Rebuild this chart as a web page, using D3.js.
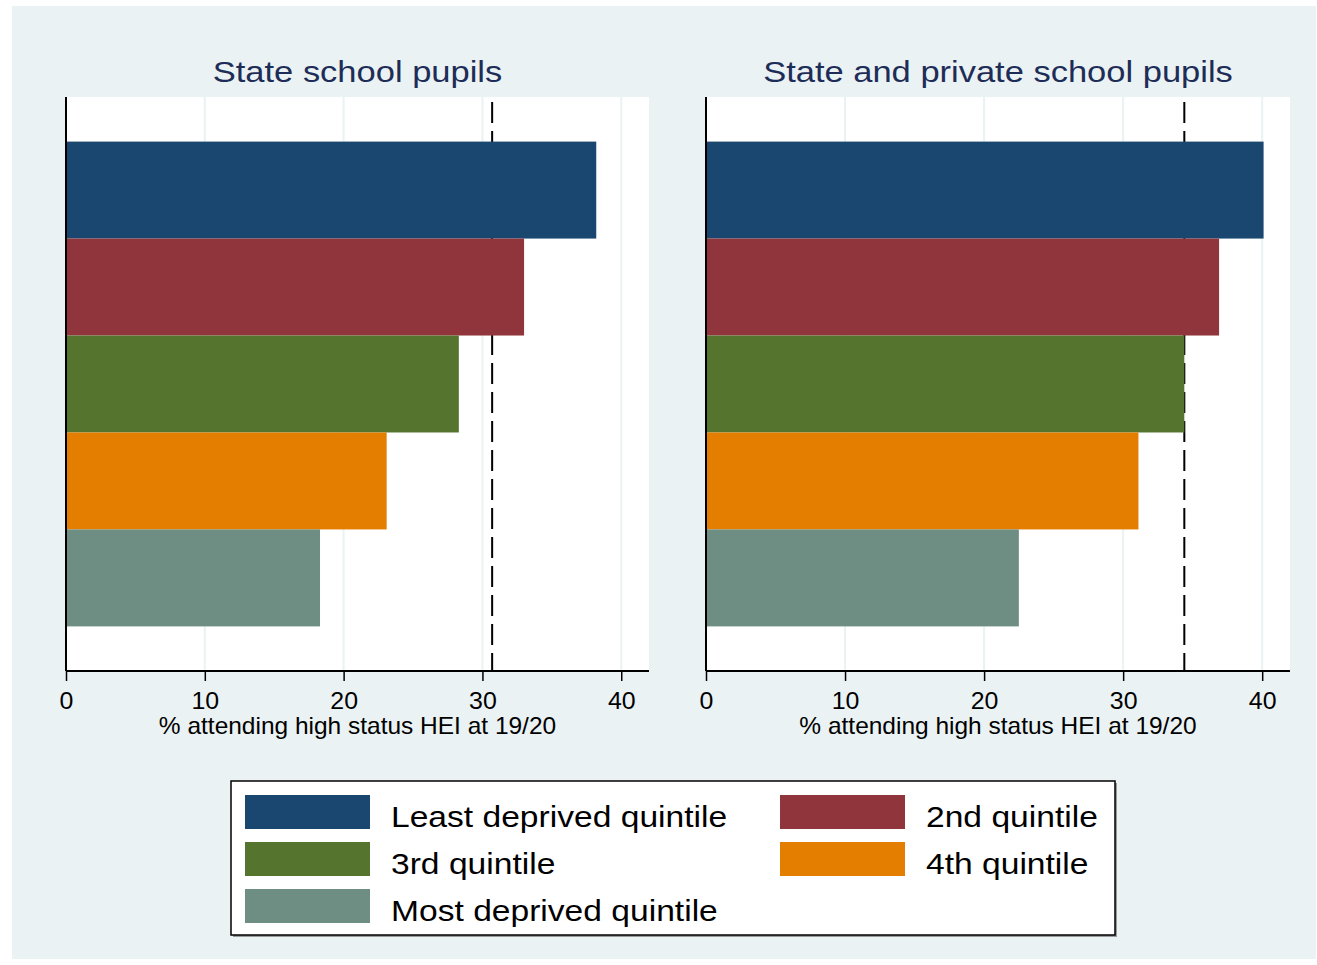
<!DOCTYPE html>
<html>
<head>
<meta charset="utf-8">
<script src="https://cdn.jsdelivr.net/npm/d3@7"></script>
<style>
  body { margin: 0; background: #fff; }
  svg text { font-family: "Liberation Sans", Arial, Helvetica, sans-serif; }
</style>
</head>
<body>
<svg id="chart" width="1317" height="965"></svg>
<script>
// data
let quintiles = ["Least deprived quintile", "2nd quintile", "3rd quintile", "4th quintile", "Most deprived quintile"];
let colors = ["#1A476F", "#90353B", "#55752F", "#E37E00", "#6E8E84"];
let panelTitles = ["State school pupils", "State and private school pupils"];
let stateValues = [38.2, 33.0, 28.3, 23.1, 18.3];
let allValues = [40.1, 36.9, 34.4, 31.1, 22.5];
let averages = [30.7, 34.4];
let xTicks = [0, 10, 20, 30, 40];
let xTitle = "% attending high status HEI at 19/20";

let bg = "#EAF2F3";
let svg = d3.select("#chart");

svg.append("rect")
    .attr("x", 12).attr("y", 6)
    .attr("width", 1304).attr("height", 953)
    .attr("fill", bg);

// stretched text helper (the source is a bit wider than Arial)
function label(parent, x, y, txt, size, sx, anchor, color){
    let g = parent.append("g").attr("transform", "translate(" + x + "," + y + ") scale(" + sx + ",1)");
    g.append("text")
        .attr("text-anchor", anchor)
        .style("font-size", size + "px")
        .attr("fill", color)
        .text(txt);
    return g;
}

let panels = [
    {left: 66, right: 649, values: stateValues, avg: averages[0], title: panelTitles[0]},
    {left: 706, right: 1290, values: allValues, avg: averages[1], title: panelTitles[1]}
];

let plotTop = 97, plotBottom = 671;

panels.forEach(function(p){
    let x = d3.scaleLinear().domain([0, 42]).range([p.left, p.right]);
    let y = d3.scaleBand().domain(quintiles).range([plotTop, plotBottom]).paddingInner(0).paddingOuter(0.46);

    let g = svg.append("g");

    g.append("rect")
        .attr("x", p.left).attr("y", plotTop)
        .attr("width", p.right - p.left).attr("height", plotBottom - plotTop)
        .attr("fill", "#fff");

    // gridlines
    g.selectAll(".grid")
        .data(xTicks.filter(d => d > 0))
        .enter()
        .append("line")
        .attr("x1", d => x(d)).attr("x2", d => x(d))
        .attr("y1", plotTop).attr("y2", plotBottom)
        .attr("stroke", bg)
        .attr("stroke-width", 2);

    // reference line goes under the bars
    g.append("line")
        .attr("x1", x(p.avg)).attr("x2", x(p.avg))
        .attr("y1", plotTop + 5).attr("y2", plotBottom)
        .attr("stroke", "#000")
        .attr("stroke-width", 2)
        .attr("stroke-dasharray", "21,8");

    g.selectAll(".bar")
        .data(p.values)
        .enter()
        .append("rect")
        .attr("x", x(0))
        .attr("y", (d, i) => y(quintiles[i]))
        .attr("width", d => x(d) - x(0))
        .attr("height", y.bandwidth())
        .attr("fill", (d, i) => colors[i]);

    // axes
    let axis = d3.axisBottom(x).tickValues(xTicks).tickSize(10).tickPadding(5).tickFormat(d3.format("d"));
    let ax = g.append("g").attr("transform", "translate(0," + plotBottom + ")").call(axis);
    ax.select(".domain").remove();
    ax.selectAll(".tick line").attr("stroke", "#000").attr("stroke-width", 1.5);
    ax.selectAll(".tick text").remove();
    ax.selectAll(".tick").each(function(d){
        label(d3.select(this), 0, 38, d3.format("d")(d), 23.5, 1.06, "middle", "#000");
    });

    g.append("line")
        .attr("x1", p.left).attr("x2", p.right)
        .attr("y1", plotBottom).attr("y2", plotBottom)
        .attr("stroke", "#000").attr("stroke-width", 2);
    g.append("line")
        .attr("x1", p.left).attr("x2", p.left)
        .attr("y1", plotTop).attr("y2", plotBottom)
        .attr("stroke", "#000").attr("stroke-width", 2);

    label(g, (p.left + p.right) / 2, 734, xTitle, 24, 1.02, "middle", "#000");
    label(g, (p.left + p.right) / 2, 82, p.title, 30, 1.15, "middle", "#1E2D58");
});

// legend
let leg = svg.append("g");
leg.append("rect")
    .attr("x", 233).attr("y", 783)
    .attr("width", 884).attr("height", 154)
    .attr("fill", "#9a9a9a");
leg.append("rect")
    .attr("x", 231).attr("y", 781)
    .attr("width", 884).attr("height", 154)
    .attr("fill", "#fff")
    .attr("stroke", "#000")
    .attr("stroke-width", 1.5);

let colX = [245, 780];
let rowY = [795, 842, 889];

quintiles.forEach(function(q, i){
    let cx = colX[i % 2];
    let ry = rowY[Math.floor(i / 2)];
    leg.append("rect")
        .attr("x", cx).attr("y", ry)
        .attr("width", 125).attr("height", 34)
        .attr("fill", colors[i]);
    label(leg, cx + 146, ry + 32, q, 30, 1.12, "start", "#000");
});
</script>
</body>
</html>
